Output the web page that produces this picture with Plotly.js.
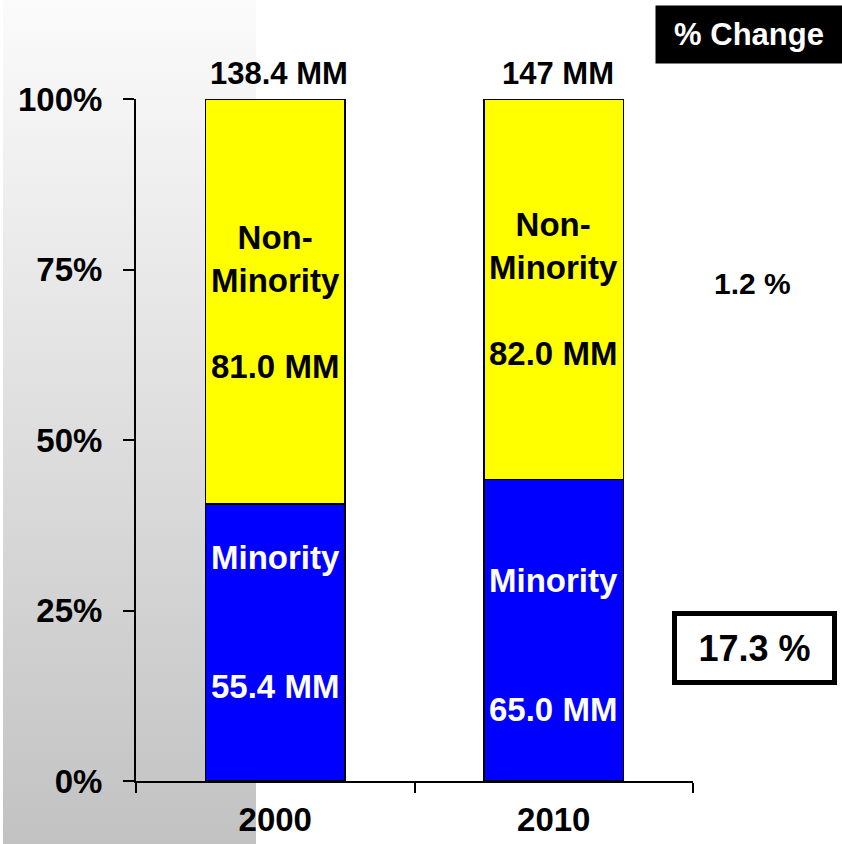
<!DOCTYPE html>
<html>
<head>
<meta charset="utf-8">
<script src="https://cdn.plot.ly/plotly-3.0.1.min.js"></script>
<style>
  html, body { margin: 0; padding: 0; background: #ffffff; }
  #chart { width: 842px; height: 844px; }
</style>
</head>
<body>
<div id="chart"></div>
<script>
// ---- data ----
const categories = ['2000', '2010'];
const minority = [55.4, 65.0];
const nonMinority = [81.0, 82.0];
const totalLabels = ['138.4 MM', '147 MM'];
const minorityLabels = ['55.4 MM', '65.0 MM'];
const nonMinorityLabels = ['81.0 MM', '82.0 MM'];
const changeHeader = '% Change';
const changeNonMinority = '1.2 %';
const changeMinority = '17.3 %';
const yTickVals = [0, 25, 50, 75, 100];
const yTickText = ['0%', '25%', '50%', '75%', '100%'];

// ---- layout helpers ----
const W = 842, H = 844;
const M = { l: 136, r: 149, t: 99, b: 63 };
const PW = W - M.l - M.r, PH = H - M.t - M.b;
const px2x = p => (p - M.l) / PW;
const py2y = p => (H - M.b - p) / PH;
const FAM = 'Liberation Sans, Arial, Helvetica, sans-serif';
const minorityShift = [21, -15];

const traces = [
  {
    type: 'bar', name: 'Minority', x: categories, y: minority,
    marker: { color: '#0000ff', line: { color: '#000000', width: 1.5 } },
    hoverinfo: 'skip'
  },
  {
    type: 'bar', name: 'Non-Minority', x: categories, y: nonMinority,
    marker: { color: '#ffff00', line: { color: '#000000', width: 1.5 } },
    hoverinfo: 'skip'
  }
];

const annotations = [];
categories.forEach((c, i) => {
  const tot = minority[i] + nonMinority[i];
  const mShare = minority[i] / tot * 100;
  annotations.push({
    x: i, y: 100, xref: 'x', yref: 'y', text: totalLabels[i], showarrow: false,
    xanchor: 'center', yanchor: 'middle', yshift: 26, xshift: 4,
    font: { family: FAM, size: 31, weight: 'bold', color: '#000' }
  });
  annotations.push({
    x: i, y: mShare + (100 - mShare) / 2, xref: 'x', yref: 'y',
    text: 'Non-<br>Minority<br><br>' + nonMinorityLabels[i], showarrow: false,
    xanchor: 'center', yanchor: 'middle',
    font: { family: FAM, size: 33, weight: 'bold', color: '#000' }
  });
  annotations.push({
    x: i, y: mShare / 2, xref: 'x', yref: 'y',
    text: 'Minority<br><br><br>' + minorityLabels[i], showarrow: false,
    xanchor: 'center', yanchor: 'middle', yshift: minorityShift[i],
    font: { family: FAM, size: 33, weight: 'bold', color: '#fff' }
  });
});
annotations.push({
  xref: 'paper', yref: 'paper', x: px2x(749), y: py2y(34.5),
  xanchor: 'center', yanchor: 'middle',
  text: changeHeader, showarrow: false, width: 186, height: 57, borderpad: 0,
  bgcolor: '#000000', font: { family: FAM, size: 31, weight: 'bold', color: '#fff' }
});
annotations.push({
  xref: 'paper', yref: 'paper', x: px2x(752), y: py2y(283),
  xanchor: 'center', yanchor: 'middle',
  text: changeNonMinority, showarrow: false,
  font: { family: FAM, size: 30, weight: 'bold', color: '#000' }
});
annotations.push({
  xref: 'paper', yref: 'paper', x: px2x(754.5), y: py2y(648),
  xanchor: 'center', yanchor: 'middle',
  text: changeMinority, showarrow: false, width: 153, height: 62, borderpad: 1,
  borderwidth: 5, bordercolor: '#000', bgcolor: '#fff',
  font: { family: FAM, size: 36, weight: 'bold', color: '#000' }
});

const gradSvg = '<svg xmlns="http://www.w3.org/2000/svg" width="10" height="100" viewBox="0 0 10 100" preserveAspectRatio="none">' +
  '<defs><linearGradient id="g" x1="0" y1="0" x2="0" y2="1">' +
  '<stop offset="0" stop-color="#fbfbfb"/><stop offset="1" stop-color="#c2c2c2"/>' +
  '</linearGradient></defs><rect width="10" height="100" fill="url(#g)"/></svg>';

const layout = {
  width: W, height: H,
  margin: { l: M.l, r: M.r, t: M.t, b: M.b, pad: 0 },
  paper_bgcolor: '#ffffff', plot_bgcolor: 'rgba(0,0,0,0)',
  barmode: 'stack', barnorm: 'percent', bargap: 0.5,
  showlegend: false, hovermode: false,
  font: { family: FAM, color: '#000' },
  xaxis: {
    type: 'category', range: [-0.5, 1.5], tickson: 'boundaries',
    ticks: 'outside', ticklen: 10, tickwidth: 2, tickcolor: '#000',
    showline: true, linewidth: 2, linecolor: '#000', showgrid: false, zeroline: false,
    tickfont: { family: FAM, size: 33, weight: 'bold', color: '#000' },
    ticklabelstandoff: 8, fixedrange: true
  },
  yaxis: {
    range: [0, 100], tickvals: yTickVals, ticktext: yTickText,
    ticks: 'outside', ticklen: 11, tickwidth: 2, tickcolor: '#000',
    showline: true, linewidth: 2, linecolor: '#000', showgrid: false, zeroline: false,
    tickfont: { family: FAM, size: 33, weight: 'bold', color: '#000' },
    ticklabelstandoff: 14, fixedrange: true
  },
  images: [{
    source: 'data:image/svg+xml;charset=utf-8,' + encodeURIComponent(gradSvg),
    xref: 'paper', yref: 'paper', x: px2x(3), y: py2y(0),
    sizex: 253 / PW, sizey: H / PH, xanchor: 'left', yanchor: 'top',
    sizing: 'stretch', layer: 'below'
  }],
  annotations: annotations
};

Plotly.newPlot('chart', traces, layout, { staticPlot: true, displayModeBar: false });
</script>
</body>
</html>
